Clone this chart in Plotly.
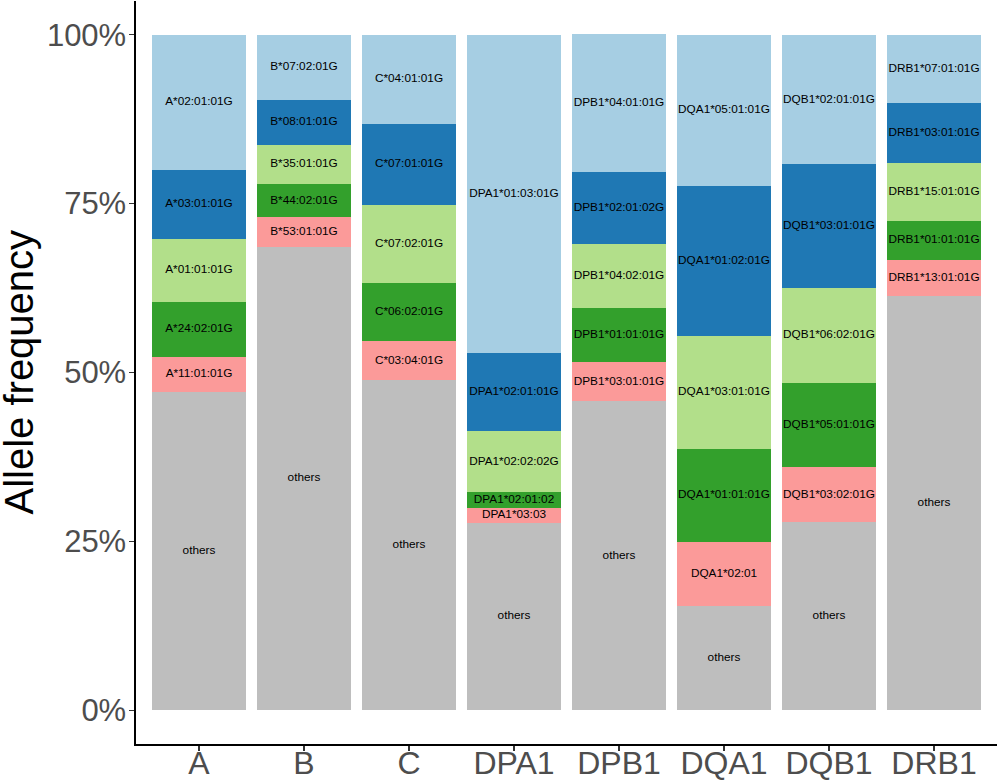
import plotly.graph_objects as go

genes = ["A", "B", "C", "DPA1", "DPB1", "DQA1", "DQB1", "DRB1"]

others_label = "others"
others_freq = [47.1, 68.6, 48.85, 27.76, 45.73, 15.36, 27.85, 61.29]

rank5_labels = ["A*11:01:01G", "B*53:01:01G", "C*03:04:01G", "DPA1*03:03", "DPB1*03:01:01G",
                "DQA1*02:01", "DQB1*03:02:01G", "DRB1*13:01:01G"]
rank5_freq = [5.2, 4.4, 5.8, 2.22, 5.83, 9.53, 8.15, 5.43]

rank4_labels = ["A*24:02:01G", "B*44:02:01G", "C*06:02:01G", "DPA1*02:01:02", "DPB1*01:01:01G",
                "DQA1*01:01:01G", "DQB1*05:01:01G", "DRB1*01:01:01G"]
rank4_freq = [8.15, 4.9, 8.6, 2.27, 8.0, 13.83, 12.44, 5.72]

rank3_labels = ["A*01:01:01G", "B*35:01:01G", "C*07:02:01G", "DPA1*02:02:02G", "DPB1*04:02:01G",
                "DQA1*03:01:01G", "DQB1*06:02:01G", "DRB1*15:01:01G"]
rank3_freq = [9.3, 5.8, 11.6, 9.04, 9.5, 16.69, 14.08, 8.6]

rank2_labels = ["A*03:01:01G", "B*08:01:01G", "C*07:01:01G", "DPA1*02:01:01G", "DPB1*02:01:02G",
                "DQA1*01:02:01G", "DQB1*03:01:01G", "DRB1*03:01:01G"]
rank2_freq = [10.25, 6.7, 12.0, 11.66, 10.6, 22.22, 18.28, 8.89]

rank1_labels = ["A*02:01:01G", "B*07:02:01G", "C*04:01:01G", "DPA1*01:03:01G", "DPB1*04:01:01G",
                "DQA1*05:01:01G", "DQB1*02:01:01G", "DRB1*07:01:01G"]
rank1_freq = [20.0, 9.6, 13.1, 47.05, 20.44, 22.37, 19.2, 10.07]

y_ticks = [0, 25, 50, 75, 100]
y_ticktext = ["0%", "25%", "50%", "75%", "100%"]
y_title = "Allele frequency"

FONT = "Liberation Sans, Arial, Helvetica, sans-serif"

layers = [
    ([others_label] * len(genes), others_freq, "#BEBEBE"),
    (rank5_labels, rank5_freq, "#FB9A99"),
    (rank4_labels, rank4_freq, "#33A02C"),
    (rank3_labels, rank3_freq, "#B2DF8A"),
    (rank2_labels, rank2_freq, "#1F78B4"),
    (rank1_labels, rank1_freq, "#A6CEE3"),
]

fig = go.Figure()
base = [0.0] * len(genes)
text_x, text_y, text_t = [], [], []
for labels, freqs, color in layers:
    fig.add_trace(go.Bar(
        x=genes, y=freqs, width=0.9, marker=dict(color=color, line=dict(width=0)),
        hoverinfo="skip", showlegend=False,
    ))
    for i, g in enumerate(genes):
        text_x.append(g)
        text_y.append(base[i] + freqs[i] / 2)
        text_t.append(labels[i])
        base[i] += freqs[i]

fig.add_trace(go.Scatter(
    x=text_x, y=text_y, text=text_t, mode="text", textposition="middle center",
    textfont=dict(family=FONT, size=11.8, color="#000000"),
    hoverinfo="skip", showlegend=False, cliponaxis=False,
))

fig.add_annotation(
    text=y_title, textangle=-90, xref="paper", yref="paper", x=0, y=0.5,
    xanchor="center", yanchor="middle", xshift=-118, showarrow=False,
    font=dict(family=FONT, size=40, color="black"),
)

fig.update_layout(
    barmode="stack",
    width=998, height=780,
    margin=dict(l=136, r=1, t=1, b=36),
    paper_bgcolor="white", plot_bgcolor="white",
    font=dict(family=FONT),
    xaxis=dict(
        type="category", categoryorder="array", categoryarray=genes,
        range=[-0.6, 7.6], showgrid=False, zeroline=False, automargin=False,
        showline=True, linecolor="black", linewidth=1.6,
        ticks="outside", ticklen=5, tickwidth=1.3, tickcolor="#333333",
        tickfont=dict(family=FONT, size=32, color="#4D4D4D"),
        ticklabelstandoff=-15,
    ),
    yaxis=dict(
        range=[-5, 105], tickvals=y_ticks, ticktext=y_ticktext,
        showgrid=False, zeroline=False, automargin=False,
        showline=True, linecolor="black", linewidth=1.6,
        ticks="outside", ticklen=5, tickwidth=1.3, tickcolor="#333333",
        tickfont=dict(family=FONT, size=31, color="#4D4D4D"),
        ticklabelstandoff=-3,
    ),
)

fig.write_html("out.html", config={"displayModeBar": False, "staticPlot": True},
               post_script="document.body.style.margin='0px';document.body.style.overflow='hidden';")
